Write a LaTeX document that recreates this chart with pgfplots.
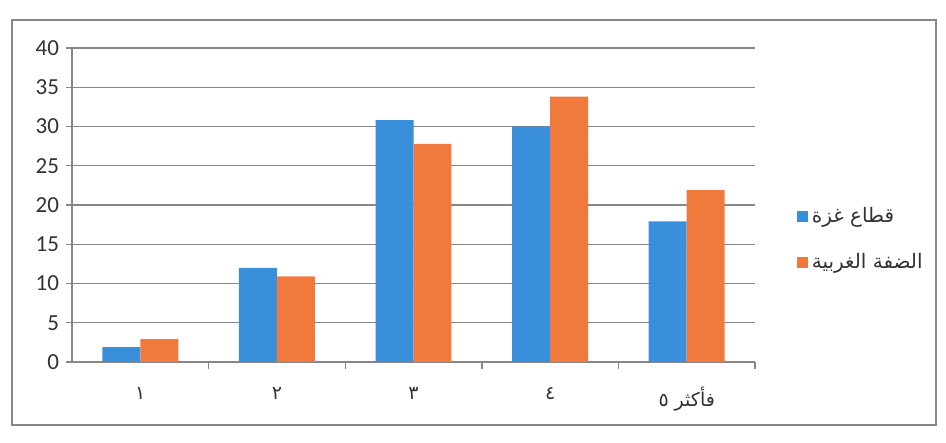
\documentclass[border=0pt]{standalone}
\usepackage{pgfplots}
\pgfplotsset{compat=1.18}
\usepackage{fontspec}
\setmainfont{Carlito}
\newfontfamily\arabicfont[Script=Arabic]{DejaVu Sans}
\TeXXeTstate=1
\definecolor{gazablue}{RGB}{58,143,218}
\definecolor{wborange}{RGB}{240,122,62}
\definecolor{gridgray}{RGB}{135,135,135}
\definecolor{txt}{RGB}{50,50,50}
\begin{document}
\begin{tikzpicture}[x=1pt,y=1pt]
\path[use as bounding box] (0,0) rectangle (473,221.5);
\draw[gridgray, line width=0.7pt] (6,9) rectangle (468,211.5);
\begin{axis}[
  at={(36pt,40.5pt)}, anchor=south west,
  scale only axis, width=341.5pt, height=157pt,
  xmin=-0.5, xmax=4.5, ymin=0, ymax=40,
  ybar=0pt, bar width=0.278,
  ytick={0,5,...,40},
  xtick={0,1,2,3,4},
  xticklabels={{\arabicfont\beginR ١\endR},{\arabicfont\beginR ٢\endR},{\arabicfont\beginR ٣\endR},{\arabicfont\beginR ٤\endR},{\arabicfont\beginR فأكثر ٥\endR}},
  minor xtick={0.5,1.5,2.5,3.5,4.5},
  axis x line*=bottom, axis y line*=left,
  axis line style={gridgray, line width=0.7pt},
  tick align=outside,
  major tick length=3pt, minor tick length=3.5pt,
  major x tick style={draw=none},
  minor x tick style={gridgray, line width=0.7pt},
  ytick style={gridgray, line width=0.7pt},
  ymajorgrids, grid style={gridgray, line width=0.7pt},
  /pgf/number format/assume math mode=true,
  yticklabel style={font=\fontsize{11.5}{13}\selectfont, text=txt},
  xticklabel style={font=\fontsize{9.5}{12}\selectfont, text=txt, yshift=-6pt},
  legend style={draw=none, fill=none, inner sep=0pt, at={(1.0615,0.39)}, anchor=west,
    font=\fontsize{10}{12}\selectfont, text=txt, row sep=10pt, cells={anchor=west}},
  legend image code/.code={\fill[#1, draw=none] (0pt,-2.6pt) rectangle (5.2pt,2.6pt);},
]
\addplot[fill=gazablue, draw=none] coordinates {(0,1.9) (1,12.0) (2,30.8) (3,30.0) (4,17.9)};
\addlegendentry{\arabicfont\beginR قطاع غزة\endR}
\addplot[fill=wborange, draw=none] coordinates {(0,2.9) (1,10.9) (2,27.8) (3,33.8) (4,21.9)};
\addlegendentry{\arabicfont\beginR الضفة الغربية\endR}
\end{axis}
\end{tikzpicture}
\end{document}
